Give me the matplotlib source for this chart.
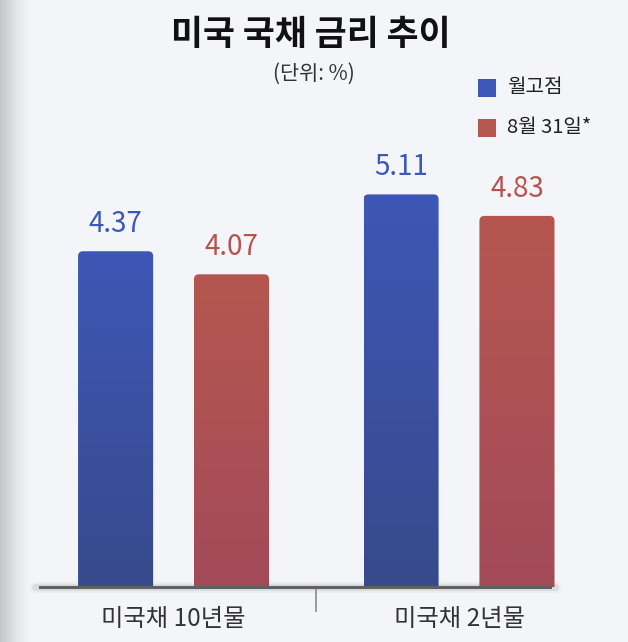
import matplotlib
matplotlib.use("Agg")
import matplotlib.pyplot as plt
import numpy as np
from matplotlib.patches import FancyBboxPatch, Rectangle
from matplotlib.colors import LinearSegmentedColormap
import matplotlib.transforms as mtransforms

plt.rcParams['font.family'] = ['Noto Sans CJK KR', 'DejaVu Sans']

categories = ['미국채 10년물', '미국채 2년물']
series_names = ['월고점', '8월 31일*']
peak_values = [4.37, 5.11]
aug31_values = [4.07, 4.83]
title = '미국 국채 금리 추이'
subtitle = '(단위: %)'

W, H = 628, 642
fig = plt.figure(figsize=(W / 100, H / 100), dpi=100)
bg = '#f4f5f9'
fig.patch.set_facecolor(bg)

# left shadow strip
sh = fig.add_axes([0, 0, 30 / W, 1])
grad = np.linspace(0, 1, 60)[None, :]
sh.imshow(grad, aspect='auto', extent=[0, 1, 0, 1],
          cmap=LinearSegmentedColormap.from_list('s', ['#c4c5c9', '#e3e4e8', bg]))
sh.axis('off')

ax = fig.add_axes([0, 55 / H, 1, 461 / H])
ax.set_facecolor('none')
ax.axis('off')

x = np.arange(len(categories))
bw = 0.263
off = 0.203
colors_top = ['#3e57b6', '#b5574f']
colors_bot = ['#374a8c', '#a34a5a']
label_colors = ['#3b57b8', '#b5544f']

xpx = 285.5
ypx = 461 / 6.0
rx = 5 / xpx
asp = (5 / ypx) / rx

for si, vals in enumerate([peak_values, aug31_values]):
    xs = x + (-off if si == 0 else off)
    bars = ax.bar(xs, vals, width=bw, color='none', edgecolor='none')
    cmap = LinearSegmentedColormap.from_list('g%d' % si, [colors_bot[si], colors_top[si]])
    for b, v in zip(bars, vals):
        x0, w = b.get_x(), b.get_width()
        patch = FancyBboxPatch((x0, -0.3), w, v + 0.3,
                               boxstyle='round,pad=0,rounding_size=%f' % rx,
                               mutation_aspect=asp, facecolor='none', edgecolor='none')
        ax.add_patch(patch)
        img = ax.imshow(np.linspace(0, 1, 256)[:, None], origin='lower', aspect='auto',
                        extent=[x0, x0 + w, 0, v], cmap=cmap, zorder=2)
        img.set_clip_path(patch)
        ax.text(x0 + w / 2, v + 12 / ypx, f'{v:.2f}', ha='center', va='bottom',
                fontsize=20, color=label_colors[si], zorder=3)

ax.set_xlim(-0.608, 1.592)
ax.set_ylim(0, 6.0)

# baseline with soft shadow
trans = ax.transAxes
for lw, a in [(8, 0.05), (5, 0.10)]:
    ax.plot([35 / W, 555 / W], [0.0, 0.0], transform=trans, color='#555555', lw=lw,
            alpha=a, solid_capstyle='round', clip_on=False, zorder=1)
ax.plot([40 / W, 550 / W], [0.0, 0.0], transform=trans, color='#606060', lw=2.2,
        clip_on=False, zorder=4)

# divider tick
bt = mtransforms.blended_transform_factory(ax.transData, fig.transFigure)
ax.plot([0.5, 0.5], [(H - 588) / H, (H - 611) / H], transform=bt, color='#8a8a8a',
        lw=1.2, clip_on=False)

for xi, c in zip(x, categories):
    ax.text(xi, (H - 619) / H, c, transform=bt, ha='center', va='center',
            fontsize=17.5, color='#333333')

fig.text(311 / W, 1 - 34 / H, title, ha='center', va='center', fontsize=25,
         fontweight='bold', color='#111111')
fig.text(314 / W, 1 - 74 / H, subtitle, ha='center', va='center', fontsize=15,
         color='#333333')

# legend
for i, (name, col) in enumerate(zip(series_names, colors_top)):
    yc = 88 + 40 * i
    fig.patches.append(Rectangle((478 / W, 1 - (yc + 9) / H), 18 / W, 18 / H,
                                 transform=fig.transFigure, facecolor=col,
                                 edgecolor='none'))
    fig.text(507 / W, 1 - yc / H, name, ha='left', va='center', fontsize=14.5,
             color='#222222')

fig.savefig('out.png', dpi=100, facecolor=fig.get_facecolor())
